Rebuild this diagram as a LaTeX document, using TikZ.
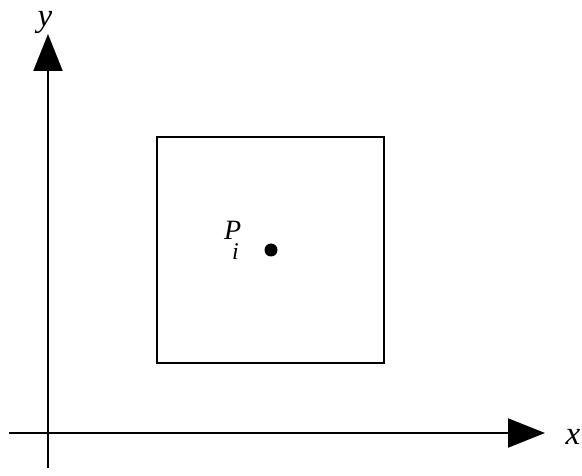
\documentclass[tikz,border=0pt]{standalone}
\usepackage{fontspec}
\setmainfont{Liberation Serif}
\usetikzlibrary{arrows.meta}
\begin{document}
\begin{tikzpicture}[x=1pt,y=-1pt,
  axis/.style={line width=2pt,-{Triangle[length=37pt,width=29pt]}},
  lbl/.style={font=\fontsize{33}{38}\selectfont\itshape,inner sep=0pt}]
\useasboundingbox (0,0) rectangle (582,476);
\coordinate (xs) at (9,433);
\coordinate (xe) at (545,433);
\coordinate (ys) at (48,468);
\coordinate (ye) at (48,34);
\draw[axis] (xs) -- (xe);
\draw[axis] (ys) -- (ye);
\node[lbl,anchor=base] (xl) at (573,444) {x};
\node[lbl,anchor=base] (yl) at (45,27) {y};
\draw[line width=1.5pt] (157,137) rectangle (384,363);
\fill (271,250) circle (6.5pt);
\node[lbl,anchor=base west] (pl) at (224,240) {\fontsize{28}{32}\selectfont P};
\node[lbl,anchor=base west] (pi) at (232,260) {\fontsize{24}{28}\selectfont i};
\end{tikzpicture}
\end{document}
